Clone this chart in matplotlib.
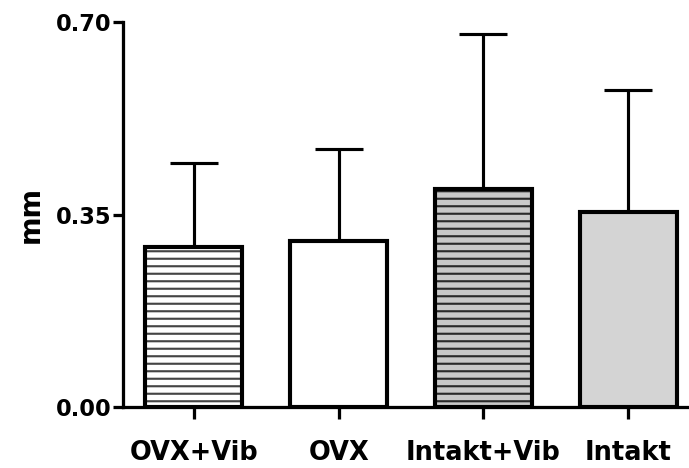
import numpy as np
import matplotlib
matplotlib.use("Agg")
from matplotlib import pyplot as plt

groups = ["OVX+Vib", "OVX", "Intakt+Vib", "Intakt"]
means = [0.291, 0.302, 0.396, 0.355]
sd = [0.153, 0.167, 0.282, 0.221]

fills = ["white", "white", "#c9c9c9", "#d4d4d4"]
hatches = ["--", "", "--", ""]
hatch_cols = ["#444444", "white", "#2a2a2a", "#d4d4d4"]

DPI = 90  # hatch repeats once per inch, so 90 dpi gives ~7.5 px line spacing

plt.rcParams['font.family'] = ['DejaVu Sans']
plt.rcParams['font.weight'] = 'bold'
plt.rcParams['hatch.linewidth'] = 1.7

fig = plt.figure(figsize=(689 / DPI, 468 / DPI), dpi=DPI)
ax = fig.add_axes([0.1785, 0.1303, 0.8215, 0.8227])

x = np.arange(len(groups))
w = 0.67

# upper error bars only, behind the bars
ax.errorbar(x, means, yerr=[np.zeros(len(sd)), sd], fmt='none', ecolor='black',
            elinewidth=2.5, capsize=19.5, capthick=2.5, zorder=1)

# hatch layer, then the thick black outline on top
for xi, m, fc, h, hc in zip(x, means, fills, hatches, hatch_cols):
    ax.bar(xi, m, w, color=fc, edgecolor=hc, hatch=h, linewidth=0, zorder=2)
ax.bar(x, means, w, color='none', edgecolor='black', linewidth=3.3, zorder=3)

ax.set_xlim(-0.49, 3.42)
ax.set_ylim(0, 0.70)
ax.set_yticks([0, 0.35, 0.70])
ax.set_yticklabels(["0.00", "0.35", "0.70"])
ax.set_xticks(x)
ax.set_xticklabels(groups)
ax.set_ylabel("mm", fontsize=22, fontweight='bold', labelpad=9)

for s in ['top', 'right']:
    ax.spines[s].set_visible(False)
for s in ['left', 'bottom']:
    ax.spines[s].set_linewidth(2.6)
ax.tick_params(axis='y', length=8, width=2.6, labelsize=18, pad=1)
ax.tick_params(axis='x', length=9.5, width=2.6, labelsize=20.5, pad=17)

fig.savefig("out.png", dpi=DPI)
